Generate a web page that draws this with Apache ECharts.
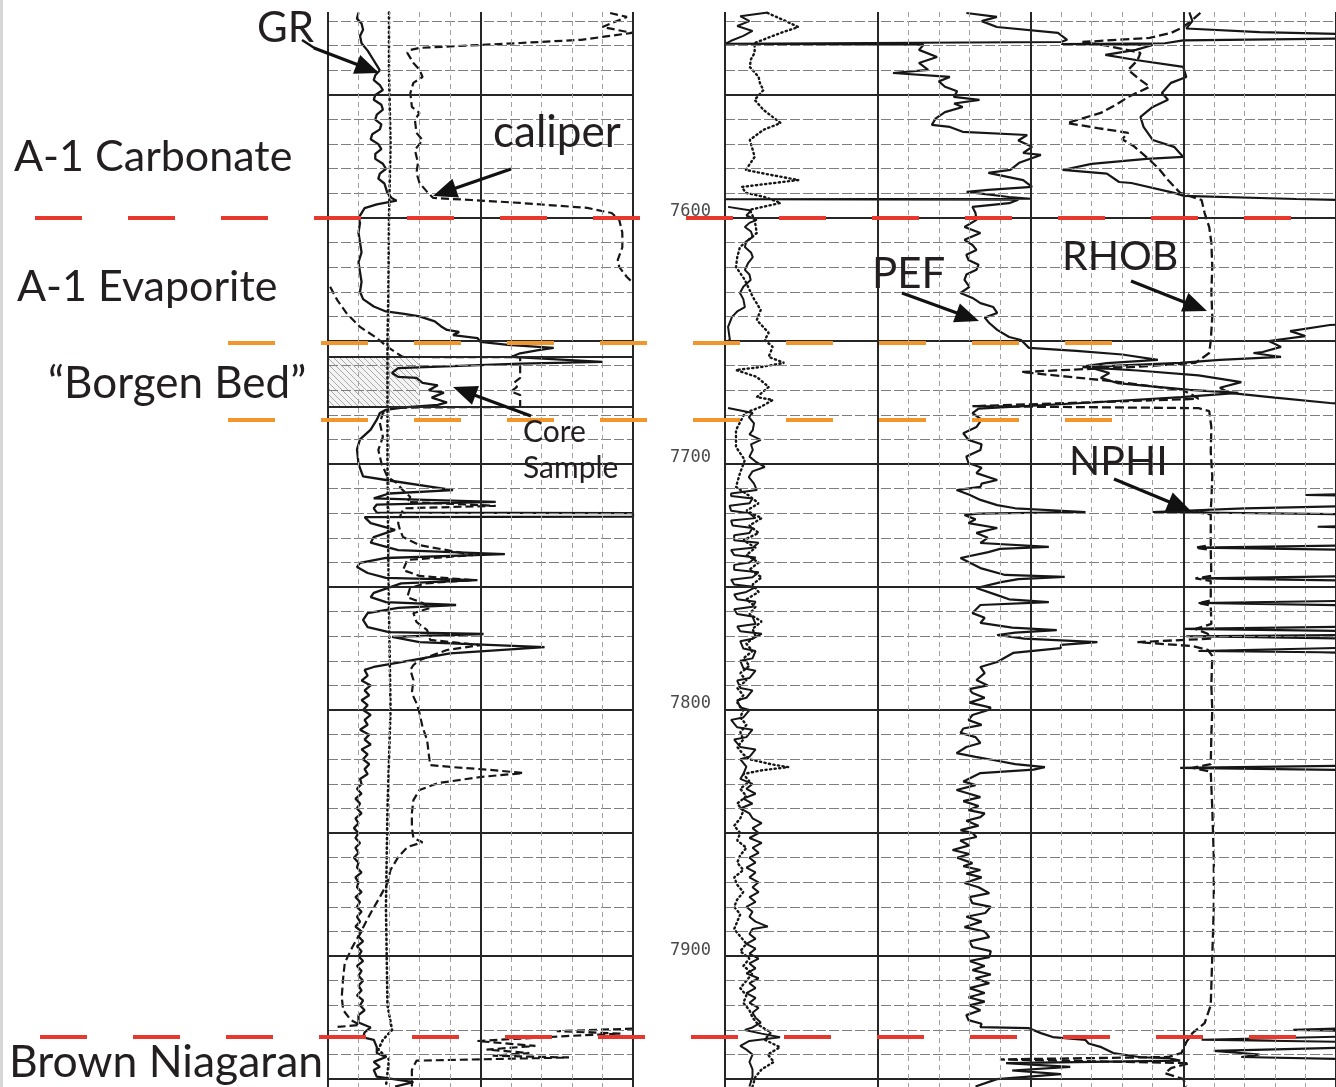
<!DOCTYPE html>
<html><head><meta charset="utf-8">
<script src="https://cdn.jsdelivr.net/npm/echarts@6/dist/echarts.min.js"></script>
<style>html,body{margin:0;padding:0;background:#fff}#c{width:1336px;height:1087px}</style>
</head><body><div id="c"></div>
<script>
// ---------- DATA (depth in ft, value in chart divisions) ----------
const depthMin = 7516.3, depthMax = 7953.2;
const depthLabels = [7600, 7700, 7800, 7900];
const coreInterval = [7656.5, 7676.8];
const formationTops = [
  {name: 'A-1 Carbonate / A-1 Evaporite', depth: 7600, color: '#e8372c', x0: 35, x1: 1298},
  {name: 'Borgen Bed top', depth: 7650.8, color: '#f2952b', x0: 228, x1: 1115},
  {name: 'Borgen Bed base', depth: 7682.1, color: '#f2952b', x0: 228, x1: 1115},
  {name: 'Brown Niagaran', depth: 7932.9, color: '#e8372c', x0: 40, x1: 1304}
];

// left track (0-10 divisions)
const leftGR = [[7516.5,1.0],[7519,0.95],[7521,1.1],[7523.5,1.15],[7526,1.05],[7529,1.1],[7532,1.3],[7535,1.45],[7538,1.6],[7540,1.7],[7542,1.55],[7544,1.5],[7546,1.7],[7548,1.8],[7550,1.55],[7552,1.5],[7554,1.75],[7556,1.8],[7558,1.6],[7560,1.55],[7562,1.75],[7564,1.7],[7566,1.45],[7568,1.4],[7570,1.65],[7572,1.75],[7574,1.55],[7576,1.55],[7578,1.8],[7580,1.9],[7582,1.7],[7584,1.65],[7586,1.85],[7588,1.9],[7590,1.95],[7592,2.1],[7593,2.25],[7594.5,1.6],[7596,1.2],[7598,1.1],[7600,1.0],
[7602,1.05],[7606,1.0],[7610,1.05],[7614,1.1],[7618,1.0],[7622,1.05],[7626,1.1],[7630,1.05],[7633,1.15],[7636,1.5],[7638,1.9],[7639,2.5],[7640,3.0],[7642,3.5],[7644,3.7],[7645.5,3.9],[7646.3,4.3],[7647.6,4.1],[7648.8,4.9],[7650.4,5.0],[7651.6,5.9],[7652.8,7.4],[7653.7,6.9],[7655,6.3],[7656.5,6.0],[7658.5,9.0],[7659.2,6.3],[7661,2.3],[7663,2.1],[7664.6,2.3],[7665,2.9],[7667,3.1],[7668,3.6],[7670,3.3],[7671,3.8],[7673,3.4],[7675,3.9],[7676,3.6],[7677,2.5],[7678,1.9],[7679.3,1.7],[7682,1.6],[7686,1.4],[7690,1.05],[7694,0.95],[7700,1.0],[7705,1.15],[7706.5,1.9],[7710.6,4.1],[7712,2.0],
[7714,1.5],[7715.4,5.5],[7716.5,1.6],[7718,1.5],[7719.8,1.6],[7720,10],[7721.4,10],[7721.6,1.2],[7724,1.4],[7726.8,2.2],[7729.7,1.5],[7732,1.4],[7735,2.3],[7736.6,5.8],[7738.2,1.9],[7740.2,1.05],[7741.9,0.95],[7744.3,1.3],[7746.3,1.9],[7747.2,4.9],[7748.5,2.4],[7752.4,1.5],[7754.1,1.4],[7756.1,1.9],[7757.3,4.2],[7758.5,2.3],[7760.6,1.3],[7763.4,1.15],[7766.3,1.3],[7768.3,2.0],[7769.1,5.1],[7770.3,2.1],[7772.4,3.0],[7774.4,7.1],[7777,4.0],[7780.5,2.4],[7782.5,1.5],[7783.7,1.2],
[7786,1.3],[7788,1.1],[7790,1.4],[7792,1.2],[7794,1.35],[7796,1.1],[7798,1.3],[7800,1.15],[7802,1.4],[7804,1.2],[7806,1.3],[7808,1.05],[7810,1.35],[7812,1.2],[7814,1.4],[7816,1.1],[7818,1.3],[7820,1.15],[7822,1.35],[7824,1.2],[7826,1.3],[7828,1.05],[7830,1.1],[7832,0.95],[7834,1.1],[7836,0.9],[7838,1.05],[7840,0.95],[7842,1.1],[7844,0.9],[7846,1.0],[7848,0.85],[7850,1.0],[7852,0.9],[7854,1.05],[7856,0.9],[7858,1.0],[7860,0.85],[7862,1.0],[7864,0.95],[7866,1.1],[7868,0.9],[7870,1.0],[7872,0.95],[7874,1.1],[7876,0.9],[7878,1.05],[7880,0.95],[7882,1.1],[7884,0.95],[7886,1.05],[7888,0.9],[7890,1.1],[7892,1.0],[7894,1.15],[7896,0.95],[7898,1.1],[7900,1.0],[7902,1.15],[7904,0.95],[7906,1.1],[7908,1.0],[7910,1.15],[7912,1.0],[7914,1.1],[7916,0.95],[7918,1.15],[7920,1.05],[7922,1.2],[7924,1.0],[7927,1.0],[7929,1.4],[7931,1.2],[7933,1.15],[7934,1.5],[7937,1.6],[7939.4,1.6],[7941,1.9],[7943,1.5],[7945,1.7],[7946.3,1.5],[7949,1.6],[7951.2,2.8],[7953,2.2]];

const leftDotted = [[7516.5,2.0],[7540,2.0],[7570,2.05],[7600,2.0],[7630,1.98],[7650,1.95],[7680,1.95],[7700,1.95],[7730,1.97],[7760,2.0],[7800,2.05],[7840,1.95],[7880,1.9],[7920,1.95],[7930,2.1],[7934,1.8],[7938,1.65],[7942,2.0],[7953,1.9]];

const leftCaliper = [[7516.7,9.25],[7518.3,9.8],[7522.4,9.0],[7524.8,9.97],[7527.6,8.3],[7528.9,6.3],[7530.9,3.0],[7531.7,2.7],[7532.9,2.6],[7537,2.8],[7539.8,3.0],[7542.7,3.1],[7545.1,2.8],[7549.2,2.7],[7554.9,2.75],[7557.3,3.0],[7560.2,2.85],[7565.4,2.9],[7568.3,3.1],[7572.4,2.85],[7577.6,2.95],[7581.7,2.9],[7585.8,3.0],[7589.4,3.25],[7591.9,3.45],[7592.7,4.7],[7593.9,6.3],[7595.9,8.5],[7598,9.3],[7600.8,9.55],[7606,9.65],[7612,9.65],[7617,9.5],[7620,9.55],[7624,9.8],[7626.4,10],['-','-'],[7628,0.07],[7633.3,0.3],[7638.6,0.6],[7644.3,1.05],[7648.8,1.6],[7652.4,1.95],[7654.9,2.25],[7656.5,2.45],[7656.6,6.3],[7665,6.3],[7667,6.1],[7668.7,6.2],[7670.5,6.0],[7672,6.3],[7676.8,6.3],[7677.1,2.1],[7679.3,1.8],[7683.3,1.7],[7689,1.8],[7694.3,1.65],[7699.6,1.75],[7705.3,1.95],[7707.7,2.25],[7710.6,2.45],[7713.4,2.7],
[7715.4,2.6],[7717,5.5],[7718,2.5],[7720,2.4],[7724,2.3],[7726.8,2.36],[7729.7,2.46],[7733,3.0],[7735,3.9],[7737,4.75],[7739,2.6],[7743.1,2.46],[7745.5,3.0],[7747.2,4.75],[7748.5,3.2],[7750.4,2.69],[7754.1,2.6],[7756.5,3.1],[7758.5,3.35],[7760.6,2.8],[7764.2,2.9],[7767.5,3.25],[7771.5,3.35],[7773.6,5.0],[7775.6,3.9],[7779.7,3.0],[7781.7,2.8],[7783.7,2.7],[7787.8,2.8],[7793.1,2.75],[7797.2,2.9],[7801.2,3.0],[7806.9,3.1],[7812.2,3.25],[7817.5,3.3],[7822.4,3.35],[7823.2,4.1],[7824.4,5.4],[7825.6,6.4],[7827.2,5.0],[7829.7,3.6],[7832.5,3.0],[7836.6,2.8],[7841.9,2.75],[7847.6,2.75],[7852,2.8],[7853.7,3.1],[7855.7,2.6],[7859.8,2.3],[7865,2.05],[7870.3,1.95],[7876,1.7],[7882.5,1.4],[7890.7,1.05],[7896.3,0.8],[7902.8,0.55],[7908.5,0.5],[7916.7,0.45],[7922,0.5],[7926,0.75],[7928,1.05],[7928.9,0.2],['-','-'],[7929.5,10],[7930.5,7.5],[7931.5,9.6],[7932.5,7.8],[7934.5,4.9],[7936.5,6.8],[7938,5.2],[7939.4,6.6],[7940.5,5.4],[7941.2,7.9],[7942.5,2.9],[7946.3,2.75],[7953,2.75]];

// right track (0-20 divisions)
const rightSolid = [[7516.5,1.4],[7518,0.5],[7520,0.8],[7522,0.4],[7524,0.9],[7526,0.6],[7528,0.2],[7529.3,0.0],['-','-'],
[7595.5,0.1],[7597,0.85],[7599,0.7],[7600.8,1.04],[7602,0.8],[7603.7,0.65],[7605.5,0.85],[7607.7,0.91],[7609.5,0.7],[7611.8,0.65],[7614,0.85],[7615.9,0.91],[7618.5,0.75],[7621.1,0.65],[7623,0.8],[7625.2,0.84],[7628,0.6],[7630.5,0.49],[7633,0.6],[7636.2,0.65],[7638,0.4],[7640.2,0.23],[7644.3,0.1],[7649.6,0.16],[7650.5,0.0],['-','-'],
[7677.2,0.1],[7679.3,0.91],[7680.9,0.78],[7683.5,0.95],[7686.2,0.91],[7688,0.8],[7690.2,1.17],[7692,0.85],[7694.3,0.91],[7697,0.8],[7699,1.0],[7701.2,1.3],[7703,0.9],[7705.3,0.78],[7708,0.95],[7710.6,1.04],
[7712,0.2],[7713,0.2],[7714,0.9],[7716,0.8],[7717,0.15],[7719,0.2],[7720,0.8],[7722,1.0],[7723,0.2],[7725,0.25],[7726,0.9],[7728,0.8],[7729,0.3],[7731,0.3],[7732,1.1],[7734,0.9],[7735,0.2],[7737,0.3],[7738,1.0],[7740,0.8],[7741,0.3],[7743,0.3],[7744,1.1],[7746,0.9],[7747,0.2],[7749,0.3],[7750,1.0],[7752,0.7],[7753,0.3],[7755,0.4],[7756,1.0],[7758,0.9],[7759,0.3],[7761,0.4],[7762,0.9],[7765,1.0],[7766,0.4],[7768,0.5],[7769,1.2],[7771,0.9],[7772,0.5],[7775,0.6],[7776,1.0],[7779,0.9],[7780,0.5],[7783,0.6],[7784,1.0],[7787,0.8],[7788,0.4],[7791,0.5],[7792,0.9],[7795,0.7],[7796,0.4],[7799,0.5],[7800,0.8],[7803,0.6],[7804,0.2],[7807,0.4],[7808,0.9],[7811,0.7],[7812,0.3],[7815,0.5],[7816,1.0],[7819,0.8],[7820,0.5],[7823,0.7],[7826,0.6],
[7828,0.5],[7830,0.9],[7832,0.7],[7834,1.0],[7836,0.6],[7838,0.9],[7840,0.5],[7842,0.8],[7844,0.9],[7846,1.2],[7848,0.9],[7850,1.1],[7852,0.8],[7854,1.2],[7856,0.9],[7858,1.1],[7860,0.8],[7862,1.0],[7864,0.7],[7866,1.0],[7868,0.8],[7870,1.1],[7872,0.9],[7874,1.1],[7876,0.8],[7878,1.0],[7880,0.7],[7882,0.9],[7884,0.8],[7886,1.0],[7888,1.4],[7889,0.9],[7891,0.8],[7893,1.0],[7895,0.7],[7897,1.0],[7899,0.8],[7901,1.1],[7903,0.8],[7905,1.0],[7907,0.7],[7909,1.1],[7911,0.8],[7913,1.0],[7915,0.7],[7917,1.0],[7919,0.8],[7921,1.1],[7923,0.9],[7925,1.0],[7927,1.17],[7929,0.9],[7930,0.65],[7931.5,1.2],[7933,1.8],[7934.5,0.8],[7936.5,0.5],[7938,0.7],[7940,0.9],[7943,0.8],[7946,0.9],[7949,0.9],[7953,0.8]];

const rightDotted = [[7516.7,1.39],[7519.5,1.9],[7522.4,2.4],[7524.8,1.82],[7528.9,0.97],[7532.9,0.97],[7535.5,0.85],[7538.6,0.81],[7542.7,1.1],[7545.5,1.15],[7548,1.26],[7552,0.97],[7556.1,1.26],[7561.4,1.82],[7564.2,1.26],[7568.3,0.81],[7572,0.9],[7575.2,0.97],[7580.5,0.68],[7582.5,1.5],[7584.6,2.4],[7587.4,0.55],[7589.8,0.68],[7591.5,1.3],[7593.9,1.82],[7596.7,0.81],[7600.8,0.97],[7606.1,1.04],[7611.8,0.49],[7616,0.4],[7619.9,0.36],[7625.2,0.65],[7632.1,0.91],[7637.4,1.17],[7641.5,1.04],[7646.7,1.43],[7649.6,1.3],[7652.4,1.56],[7656.5,1.43],[7658.9,1.94],[7660.6,1.17],[7661.8,0.36],[7664.6,1.04],[7668.7,1.43],[7672.8,1.04],[7674,1.56],[7676.8,1.17],[7679.3,0.65],[7686.2,0.36],[7693.1,0.36],[7698.4,0.65],[7703.7,0.49],[7709.3,0.36],
[7713,0.8],[7716,1.1],[7719,0.7],[7722,1.2],[7725,0.8],[7728,1.1],[7731,0.6],[7734,1.0],[7737,0.7],[7740,1.1],[7743,0.8],[7746,1.2],[7749,0.9],[7752,1.1],[7755,0.7],[7758,1.0],[7761,0.8],[7764,1.2],[7767,0.9],[7770,1.0],[7773,0.7],[7776,0.9],[7779,0.6],[7782,0.8],[7785,0.5],[7788,0.7],[7791,0.4],[7794,0.6],[7797,0.4],[7800,0.6],[7803,0.5],[7806,0.7],[7809,0.5],[7812,0.6],[7815,0.4],[7818,0.6],[7820,0.8],[7822,1.5],[7823.2,2.07],[7824.5,1.2],[7826,0.6],
[7829,0.8],[7832,0.5],[7835,0.7],[7838,0.4],[7841,0.6],[7844,0.5],[7847,0.3],[7850,0.5],[7853,0.4],[7856,0.7],[7859,0.5],[7862,0.4],[7865,0.6],[7868,0.3],[7871,0.4],[7874,0.6],[7877,0.4],[7880,0.3],[7883,0.5],[7886,0.4],[7889,0.3],[7892,0.5],[7895,0.7],[7898,0.5],[7901,0.8],[7904,0.6],[7907,0.9],[7910,0.7],[7913,0.5],[7916,0.7],[7919,0.6],[7922,0.8],[7925,0.9],[7928,1.1],[7931,1.5],[7934,1.3],[7937,1.8],[7940,1.4],[7943,1.6],[7946,1.2],[7949,1.0],[7953,0.9]];

const pef = [[7516.7,7.9],[7518.3,8.9],[7520,8.4],[7522.4,8.9],[7524.8,10.9],[7527.6,11.2],[7528.5,11.0],[7529.2,0.0],[7529.6,6.5],[7531.7,6.35],[7534.6,6.94],[7537,6.35],[7539.8,6.65],[7541.1,5.5],[7542.7,7.36],[7544.5,7.0],[7546.7,7.2],[7548.5,7.6],[7550.8,7.49],[7552,8.33],[7553.5,7.5],[7554.9,7.78],[7557,7.2],[7559.5,6.9],[7562.2,6.77],[7563,7.36],[7565,7.78],[7566.3,9.89],[7568.5,9.6],[7571.1,10.05],[7573.6,9.76],[7574.4,10.34],[7577.6,9.63],[7580.5,9.34],[7581.7,8.62],[7584.6,9.76],[7587.4,10.05],[7588.6,8.62],[7589.4,7.91],[7591.5,9.3],[7592.2,10.0],[7592.4,0.0],[7592.6,9.6],[7594,9.3],[7595.5,8.1],[7598,8.2],[7600.8,8.23],[7603.7,7.84],[7606.1,8.36],[7608.9,7.84],[7611,8.1],[7613,8.23],[7615,7.9],[7617.1,7.97],[7619,8.3],[7621.1,8.23],[7623,7.9],[7625.2,7.84],[7628,8.0],[7630.5,7.71],[7632.5,8.1],[7634.6,8.36],[7636.2,8.78],[7638.6,8.91],[7640.5,8.5],[7642.7,8.65],[7645.5,8.91],[7648.4,9.3],[7649.6,9.69],[7652.8,9.95],[7654,11.5],[7655.5,13.0],[7657.7,14.17],[7659,12.5],[7660.2,11.8],[7663,12.58],[7665,12.3],[7667.1,12.84],[7669.9,15.2],[7671.1,16.8],[7672.8,14.94],[7675,12.0],[7677.5,8.3],[7679.3,8.1],[7682,8.4],[7685,8.23],[7687.5,7.8],[7690.2,7.97],[7692,8.4],[7694.3,8.36],[7697,7.9],[7699.6,7.97],[7701.5,8.4],[7703.7,8.23],[7706.5,8.91],[7708,8.4],[7709.3,8.36],[7710.6,7.58],[7712.5,8.0],[7714.6,8.36],[7716.7,8.91],[7718,9.5],[7719.5,11.8],[7720.2,8.3],[7720.7,7.84],[7722.5,8.2],[7724,7.97],[7726,8.91],[7728,8.23],[7730,8.6],[7732.1,8.36],[7733.7,10.6],[7734.5,9.0],[7735.8,8.62],[7738.2,7.71],[7740,8.0],[7742.3,8.36],[7745.1,9.17],[7745.9,11.12],[7746.8,9.6],[7748,9.04],[7750.4,8.23],[7753.3,8.91],[7755,9.3],[7756.1,10.6],[7757.3,8.36],[7760.6,8.1],[7762.5,8.5],[7764.6,8.36],[7766.5,9.4],[7767.5,10.86],[7768.5,9.5],[7769.5,8.91],[7771,9.8],[7772.4,12.19],[7773.5,11.0],[7774.8,10.99],[7776.8,9.43],[7780.5,8.91],[7782.5,8.36],[7785,8.5],[7787.8,8.23],[7790,8.6],[7791.5,8.0],[7793.1,8.1],[7795,8.5],[7797,8.0],[7799,8.7],[7800,8.62],[7802,8.1],[7804.1,7.97],[7806,8.4],[7807.5,7.8],[7809.3,7.71],[7811,8.2],[7813.4,8.36],[7815,7.9],[7817.5,7.58],[7819,8.2],[7820.3,8.78],[7822,9.5],[7823.2,10.47],[7824.2,10.1],[7825.6,8.36],[7827.2,8.1],[7829,7.8],[7830.5,8.2],[7832.5,7.58],[7834,8.0],[7835.4,8.36],[7837,7.8],[7839,8.3],[7840.7,7.97],[7842,8.5],[7843.5,8.36],[7845,7.9],[7847,8.3],[7848.8,7.71],[7850,8.1],[7851.6,8.23],[7853,7.7],[7855,8.0],[7856.9,7.45],[7858.5,8.0],[7860,7.6],[7862.2,8.1],[7863.5,7.8],[7865,8.36],[7866.5,7.9],[7868,8.4],[7870.3,7.84],[7872,8.3],[7874.4,8.65],[7876,8.0],[7878.5,8.1],[7880,8.7],[7882.5,8.52],[7884,7.9],[7886,8.4],[7888.2,7.84],[7890,8.5],[7892.3,8.65],[7894,8.0],[7896.3,8.1],[7898,8.7],[7900.4,8.65],[7902,8.0],[7904,8.5],[7905.7,8.1],[7907.5,8.7],[7909,8.2],[7911,8.65],[7913,8.0],[7915,8.5],[7916.7,7.97],[7918.5,8.5],[7920,8.0],[7922,8.36],[7924,7.9],[7926,7.97],[7927.5,8.4],[7928.9,8.36],[7929.3,9.95],[7931.3,10.34],[7932.9,10.73],[7934.1,11.8],[7935.5,11.9],[7937,12.32],[7939.4,12.71],[7941.1,13.61],[7941.5,14.55],[7942.5,14.9],[7943.5,9.2],[7945,11.3],[7946.5,9.4],[7948,11.0],[7950,8.9],[7953,8.2]];

const rhob = [[7516.7,15.56],[7519.5,15.3],[7522.4,15.0],[7524.8,14.6],[7526.8,13.9],[7528.5,11.7],[7530,12.5],[7532.9,13.6],[7536,13.5],[7539.8,13.2],[7543,13.5],[7546.7,13.9],[7550.8,13.2],[7554,12.8],[7557.3,12.3],[7561.4,11.2],[7563.5,12.2],[7565.4,13.2],[7568,13.0],[7571,13.4],[7576.4,13.9],[7580,14.2],[7584.6,14.5],[7589.8,14.9],[7592.7,15.6],[7598,15.7],[7603.7,15.85],[7610,15.92],[7620,15.95],[7630,15.92],[7640,15.95],[7650,15.9],[7654.9,15.85],[7658.9,15.4],[7660.5,13.5],[7662.6,9.7],[7664.5,11.2],[7666.5,12.8],[7668.5,14.0],[7670,15.0],[7672,15.3],[7673.5,15.5],[7676.5,8.1],[7677.3,15.5],[7678.5,15.85],[7685,15.92],[7695,15.9],[7705,15.95],[7715,15.92],[7718.5,15.9],[7719.5,15.4],[7720.5,15.9],[7733,15.9],[7734,15.4],[7735,15.9],[7745.5,15.92],[7746.5,15.4],[7747.5,15.9],[7755.5,15.9],[7756.5,15.5],[7757.5,15.9],[7765,15.92],[7767,15.4],[7769,15.8],[7771,15.9],[7772.4,13.5],[7774,15.3],[7775.5,15.8],[7778,15.95],[7790,15.92],[7800,15.95],[7810,15.92],[7822,15.9],[7823.5,15.3],[7825,15.9],[7840,15.95],[7860,16.0],[7880,16.0],[7900,15.95],[7920,15.9],[7927.2,15.7],[7931.3,15.3],[7935,15.1],[7939.4,14.94],[7941,14.5],[7942,9.0],[7943.5,15.2],[7945.5,14.6],[7947.6,14.4],[7950,15.0],[7953,15.1]];

const nphi = [[7516.5,15.2],[7520,15.3],[7523,15.1],[7524.5,17.5],[7525.5,21],[7527,21],[7527.8,15.0],[7529,14.4],[7529.3,11.0],[7529.7,14.0],[7531.7,13.45],[7533.7,12.45],[7535.8,13.45],[7538.6,15.0],[7542.7,15.1],[7545.1,14.6],[7549.2,14.3],[7552,14.5],[7554.9,14.0],[7558.9,13.6],[7563,13.7],[7568.3,14.0],[7571.1,14.7],[7575.2,15.0],[7576,13.8],[7578,12.0],[7580.5,11.05],[7582,12.5],[7585.4,12.9],[7585.8,13.3],[7589.8,14.7],[7591,15.0],[7592.3,18.7],[7593,21],[7643,21],[7643.5,19.8],[7646,18.5],[7648,19.0],[7650,17.8],[7652.4,18.2],[7654.5,17.6],[7654.9,17.3],[7656.5,18.2],[7657.7,16.2],[7658.9,14.9],[7660.6,11.7],[7662,13.5],[7664,15.5],[7666.7,16.9],[7669,16.2],[7671.1,16.5],[7673,18],[7675.2,19.8],[7676,21],
[7712,21],[7712.6,19.0],[7713,21],[7717,21],[7718,17],[7719.5,14.0],[7720.5,21],[7725,21],[7725.5,19.4],[7726,21],[7733,21],[7734,15.5],[7735,21],[7745.5,21],[7746.5,15.6],[7747.5,21],[7755.5,21],[7756.5,15.5],[7757.5,21],[7766,21],[7767,15.0],[7768,21],[7769.5,21],[7770,15.1],[7771,21],[7774.5,21],[7776,15.5],[7776.5,19.5],[7777,21],[7822.5,21],[7823.5,14.9],[7824.5,21],[7929,21],[7930,18.6],[7930.5,21],[7932.5,21],[7934,15.6],[7935,21],[7937,21],[7938.5,16.0],[7940,17.5],[7941,16.9],[7942,21],[7953,21]];

// ---------- BUILD ----------
const toXY = arr => arr.map(p => p[0] === '-' ? ['-', '-'] : [p[1], p[0]]);
const INK = '#161616';

function gridLines(vHeavy, vMinor) {
  const d = [];
  for (let y = 7520; y <= 7950; y += 10) {
    const heavy = y % 50 === 0;
    d.push({yAxis: y, lineStyle: heavy ? {color: '#262626', width: 2, type: 'solid'} : {color: '#7e7e7e', width: 1, type: [10, 3]}});
  }
  vHeavy.forEach(v => d.push({xAxis: v, lineStyle: {color: '#262626', width: 2, type: 'solid'}}));
  vMinor.forEach(v => d.push({xAxis: v, lineStyle: {color: '#a0a0a0', width: 1, type: [5, 4]}}));
  return d;
}

function helper(idx, vHeavy, vMinor, extra) {
  return {
    type: 'line', xAxisIndex: idx, yAxisIndex: idx, data: [], z: 1, silent: true,
    markLine: {silent: true, symbol: ['none', 'none'], label: {show: false}, animation: false,
      emphasis: {disabled: true}, data: gridLines(vHeavy, vMinor).concat(extra || [])}
  };
}

function curve(idx, data, style, z) {
  return {type: 'line', xAxisIndex: idx, yAxisIndex: idx, data: toXY(data), showSymbol: false, symbol: 'none',
    clip: true, connectNulls: false, z: z || 3, silent: true,
    lineStyle: Object.assign({color: INK, width: 2.2}, style)};
}

// diagonal hatch pattern for the core sample interval
const hatch = document.createElement('canvas');
hatch.width = 6; hatch.height = 6;
(function () {
  const g = hatch.getContext('2d');
  g.fillStyle = '#f4f4f4'; g.fillRect(0, 0, 6, 6);
  g.strokeStyle = '#a9a9a9'; g.lineWidth = 1;
  g.beginPath(); g.moveTo(0, 0); g.lineTo(6, 6); g.moveTo(-3, 3); g.lineTo(3, 9); g.moveTo(3, -3); g.lineTo(9, 3); g.stroke();
})();

const leftHeavy = [0, 5, 10], leftMinor = [1, 2, 3, 4, 6, 7, 8, 9];
const rightHeavy = [0, 5, 10, 15, 20], rightMinor = [6, 7, 8, 9, 11, 12, 13, 14, 16, 17, 18, 19];

const coreLines = coreInterval.map(d => ({yAxis: d, lineStyle: {color: '#262626', width: 2, type: 'solid'}}));

const series = [
  helper(0, leftHeavy, leftMinor, coreLines),
  helper(1, rightHeavy, rightMinor),
  {type: 'line', xAxisIndex: 0, yAxisIndex: 0, data: [], z: 0, silent: true,
   markArea: {silent: true, itemStyle: {color: {image: hatch, repeat: 'repeat'}},
     data: [[{xAxis: 0, yAxis: coreInterval[0]}, {xAxis: 3, yAxis: coreInterval[1]}]]}},
  curve(0, leftDotted, {width: 2.6, type: [1.2, 3.6], cap: 'round'}),
  curve(0, leftCaliper, {width: 2.2, type: [8, 4]}),
  curve(0, leftGR, {width: 2.3}),
  curve(1, rightDotted, {width: 2.4, type: [1.2, 3.4], cap: 'round'}),
  curve(1, rightSolid, {width: 2}),
  curve(1, pef, {width: 2.2}),
  curve(1, rhob, {width: 2.3, type: [9, 4]}),
  curve(1, nphi, {width: 2.2})
];

formationTops.forEach(t => series.push({
  type: 'line', xAxisIndex: 2, yAxisIndex: 2, data: [[t.x0, t.depth], [t.x1, t.depth]],
  showSymbol: false, symbol: 'none', silent: true, z: 10,
  lineStyle: {color: t.color, width: 4, type: [47, 46]}
}));

const yBase = {type: 'value', min: depthMin, max: depthMax, inverse: true,
  axisLine: {show: false}, axisTick: {show: false}, splitLine: {show: false}, axisLabel: {show: false}};

// ---------- ANNOTATIONS ----------
const FONT = 'Lato, "Open Sans", sans-serif';
function txt(s, x, y, size, align) {
  return {type: 'text', x: x, y: y, z: 20, style: {text: s, fill: '#231f20', font: size + 'px ' + FONT,
    textAlign: align || 'left', textVerticalAlign: 'middle'}};
}
function arrow(x1, y1, x2, y2) {
  const L = 24, W = 10;
  const dx = x2 - x1, dy = y2 - y1, len = Math.hypot(dx, dy), ux = dx / len, uy = dy / len;
  const bx = x2 - ux * L, by = y2 - uy * L;
  return [
    {type: 'line', z: 20, shape: {x1: x1, y1: y1, x2: bx + ux * 2, y2: by + uy * 2}, style: {stroke: '#111', lineWidth: 3.2}},
    {type: 'polygon', z: 20, shape: {points: [[x2, y2], [bx - uy * W, by + ux * W], [bx + uy * W, by - ux * W]]}, style: {fill: '#111'}}
  ];
}

const graphics = [
  {type: 'rect', z: 0, shape: {x: 0, y: 0, width: 3, height: 1087}, style: {fill: '#d6d6d6'}},
  txt('GR', 257, 28, 42),
  txt('A-1 Carbonate', 14, 157, 43),
  txt('A-1 Evaporite', 17, 287, 43),
  txt('\u201cBorgen Bed\u201d', 48, 384, 44),
  txt('Brown Niagaran', 9, 1063, 44.5),
  txt('caliper', 493, 133, 44),
  txt('Core', 523, 432, 30),
  txt('Sample', 523, 468, 30),
  txt('PEF', 872, 274, 42),
  txt('RHOB', 1062, 257, 41),
  txt('NPHI', 1069, 462, 41)
].concat(
  [{type: 'polyline', z: 20, shape: {points: [[302, 40], [316, 49]]}, style: {stroke: '#111', lineWidth: 2.5}}],
  arrow(314, 48, 379, 73),
  arrow(511, 169, 433, 196),
  arrow(531, 416, 453, 387),
  arrow(902, 293, 979, 321),
  arrow(1131, 281, 1207, 311),
  arrow(1114, 479, 1191, 511)
);

const option = {
  animation: false,
  backgroundColor: '#ffffff',
  grid: [
    {left: 328, top: 12, width: 305, height: 1075},
    {left: 725, top: 12, width: 617, height: 1075},
    {left: 0, top: 12, width: 1336, height: 1075}
  ],
  xAxis: [
    {type: 'value', gridIndex: 0, min: 0, max: 10, show: false},
    {type: 'value', gridIndex: 1, min: 0, max: 20, show: false},
    {type: 'value', gridIndex: 2, min: 0, max: 1336, show: false}
  ],
  yAxis: [
    Object.assign({gridIndex: 0}, yBase),
    Object.assign({gridIndex: 1}, yBase, {axisLabel: {show: true, customValues: depthLabels, margin: 14,
      color: '#4a4a4a', fontFamily: '"DejaVu Sans Mono", monospace', fontSize: 17, verticalAlign: 'bottom',
      lineHeight: 12, formatter: v => String(v)}}),
    Object.assign({gridIndex: 2}, yBase)
  ],
  series: series,
  graphic: graphics
};

const chart = echarts.init(document.getElementById('c'), null, {renderer: 'canvas'});
chart.setOption(option);
</script></body></html>
